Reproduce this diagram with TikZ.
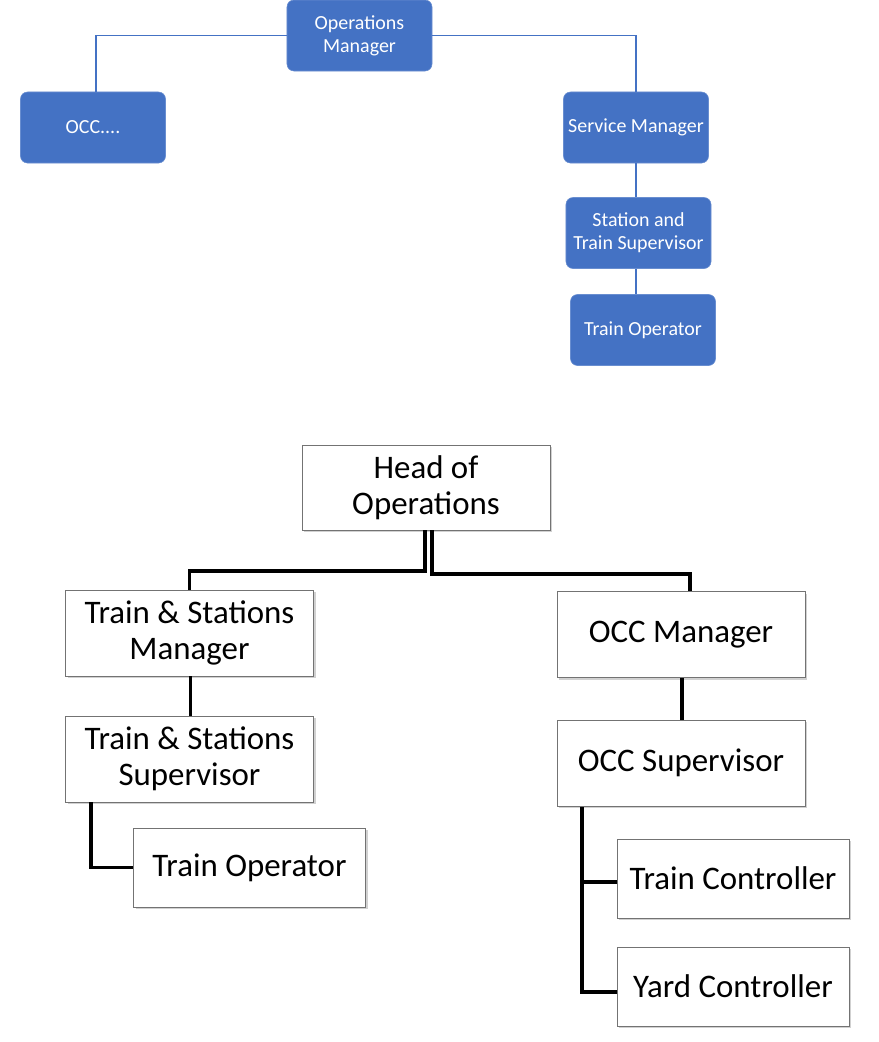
\documentclass[tikz,border=0pt]{standalone}
\usepackage{fontspec}
\setmainfont{Carlito}
\usetikzlibrary{positioning,shadows}
\definecolor{officeblue}{HTML}{4472C4}

\begin{document}
\begin{tikzpicture}[
    x=0.025cm, y=-0.025cm,
    bluebox/.style={draw=officeblue!80!white, fill=officeblue, rounded corners=5pt, minimum width=3.625cm, minimum height=1.775cm, inner sep=1pt, align=center, text=white, font=\fontsize{14.2}{16.5}\selectfont},
    orgbox/.style={draw=black!55, fill=white, minimum width=6.2cm, minimum height=2.15cm, inner sep=1pt, align=center, font=\fontsize{23.4}{25.6}\selectfont,
        drop shadow={shadow xshift=1.6pt, shadow yshift=-1.6pt, fill=black!30, opacity=0.6}},
    smallbox/.style={orgbox, minimum width=5.8cm, minimum height=1.98cm},
    link/.style={draw=officeblue, line width=1.1pt},
    bar/.style={draw=black, line width=2.8pt}
]
\useasboundingbox (0,0) rectangle (879,1042);

% old structure
\node[bluebox] (opsmgr) at (359.5,35.5) {Operations\\Manager};
\node[bluebox] (occold) at (93,127.5) {OCC....};
\node[bluebox] (svcmgr) at (636,127.5) {Service Manager};
\node[bluebox] (stsup) at (638.5,233) {Station and\\Train Supervisor};
\node[bluebox] (trainop) at (643,330) {Train Operator};

\draw[link] (opsmgr.west) -| ([xshift=0.075cm]occold.north);
\draw[link] (opsmgr.east) -| (svcmgr.north);
\draw[link] (svcmgr.south) -- (svcmgr.south |- stsup.north);
\draw[link] (svcmgr.south |- stsup.south) -- (svcmgr.south |- trainop.north);

% new structure
\node[orgbox, minimum height=2.125cm] (head) at (426,487.5) {Head of\\Operations};
\node[orgbox] (tsmgr) at (189.5,633) {Train \& Stations\\Manager};
\node[orgbox] (tssup) at (189.5,759) {Train \& Stations\\Supervisor};
\node[smallbox] (trop) at (249.5,867.5) {Train Operator};
\node[orgbox] (occmgr) at (681,634.5) {OCC Manager};
\node[orgbox] (occsup) at (681,763) {OCC Supervisor};
\node[smallbox] (trctl) at (733,878.5) {Train Controller};
\node[smallbox] (ydctl) at (733,986.5) {Yard Controller};

\coordinate (jleft) at (425,571);
\coordinate (jright) at (432,574);
\coordinate (tsdrop) at (91,802);
\coordinate (occdrop) at (582,807);

\draw[bar] (head.south -| jleft) -- (jleft) -| (tsmgr.north);
\draw[bar] (head.south -| jright) -- (jright) -| ([xshift=0.225cm]occmgr.north);
\draw[bar] ([xshift=0.025cm]tsmgr.south) -- ([xshift=0.025cm]tssup.north);
\draw[bar] ([xshift=0.025cm]occmgr.south) -- ([xshift=0.025cm]occsup.north);
\draw[bar] (tsdrop) |- (trop.west);
\draw[bar] (occdrop) |- ([yshift=-0.09cm]trctl.west);
\draw[bar] (occdrop) |- ([yshift=-0.14cm]ydctl.west);
\end{tikzpicture}
\end{document}
